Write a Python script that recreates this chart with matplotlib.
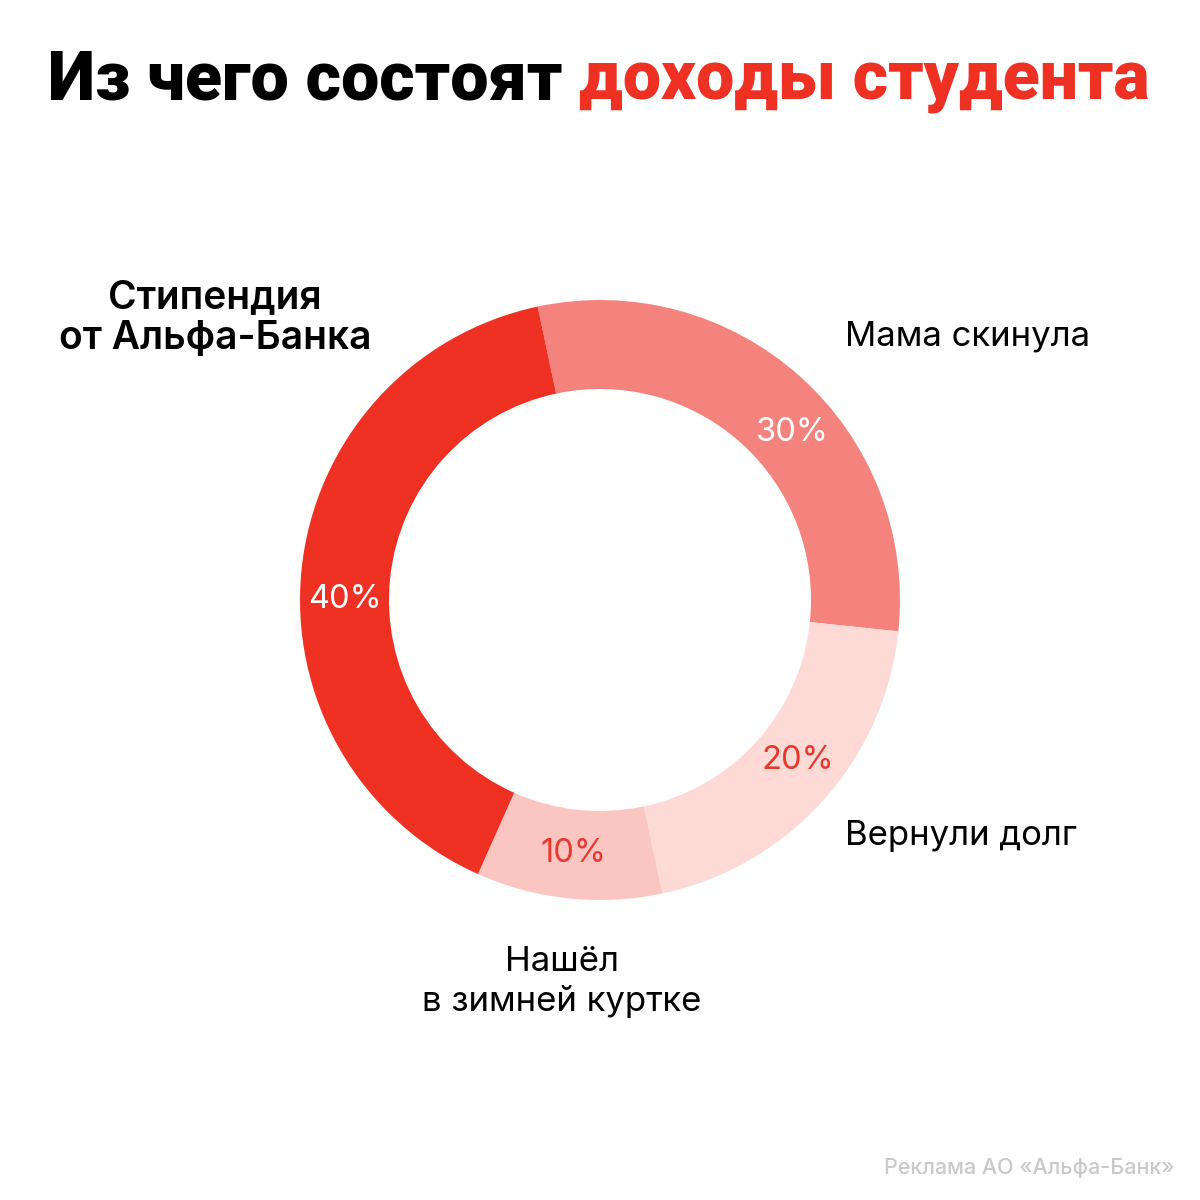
import numpy as np
import matplotlib
matplotlib.use("Agg")
import matplotlib.pyplot as plt

# data, clockwise from the top
parts = ["Мама скинула", "Вернули долг", "Нашёл\nв зимней куртке", "Стипендия\nот Альфа-Банка"]
shares = [30, 20, 10, 40]
pct_labels = ["30%", "20%", "10%", "40%"]
colors = ["#F4837D", "#FDDAD6", "#FBC6C2", "#EF3124"]
pct_colors = ["white", "#E8372C", "#E8372C", "white"]
pct_shift = [-7, 3, 0, 6]  # small angular nudges of the % labels

RED = "#EF3124"

fig = plt.figure(figsize=(12, 12), dpi=100)
fig.patch.set_facecolor("white")
ax = fig.add_axes([0, 0, 1, 1])

cx, cy, R = 600, 600, 300
wedges, _ = ax.pie(shares, colors=colors, startangle=102, counterclock=False,
                   center=(cx, cy), radius=R, frame=True,
                   wedgeprops=dict(width=89, linewidth=0))
ax.set_xlim(0, 1200)
ax.set_ylim(0, 1200)
ax.set_aspect("equal")
ax.axis("off")

for w, lab, col, sh in zip(wedges, pct_labels, pct_colors, pct_shift):
    mid = np.deg2rad((w.theta1 + w.theta2) / 2 + sh)
    r = R - 45
    ax.text(cx + r * np.cos(mid), cy + r * np.sin(mid), lab, color=col,
            fontsize=23.5, family=["Inter", "DejaVu Sans"], ha="center", va="center")

lab_font = ["Inter", "DejaVu Sans"]
ax.text(845, 863, parts[0], fontsize=25, family=lab_font, ha="left", va="center")
ax.text(845, 364, parts[1], fontsize=25, family=lab_font, ha="left", va="center")
ax.text(562, 218, parts[2], fontsize=25, family=lab_font, ha="center", va="center",
        linespacing=1.3)
ax.text(215, 882, parts[3], fontsize=28, family=lab_font, fontweight="semibold",
        ha="center", va="center", linespacing=1.15)

# title in two colours, centred as a whole
tfont = dict(fontsize=49, family=["Roboto", "DejaVu Sans"], fontweight="black", va="baseline")
t1 = ax.text(0, 1100, "Из чего состоят ", color="black", **tfont)
t2 = ax.text(0, 1100, "доходы студента", color=RED, **tfont)
fig.canvas.draw()
rend = fig.canvas.get_renderer()
inv = ax.transData.inverted()
def width(t):
    bb = t.get_window_extent(rend)
    (x0, _), (x1, _) = inv.transform([[bb.x0, 0], [bb.x1, 0]])
    return x1 - x0
w1, w2 = width(t1), width(t2)
start = 599 - (w1 + w2) / 2
t1.set_x(start)
t2.set_x(start + w1)

ax.text(1175, 32, "Реклама АО «Альфа-Банк»", color="#C9C9C9", fontsize=15.5,
        family=lab_font, fontweight="medium", ha="right", va="center")

fig.savefig("out.png", dpi=100, facecolor="white")
